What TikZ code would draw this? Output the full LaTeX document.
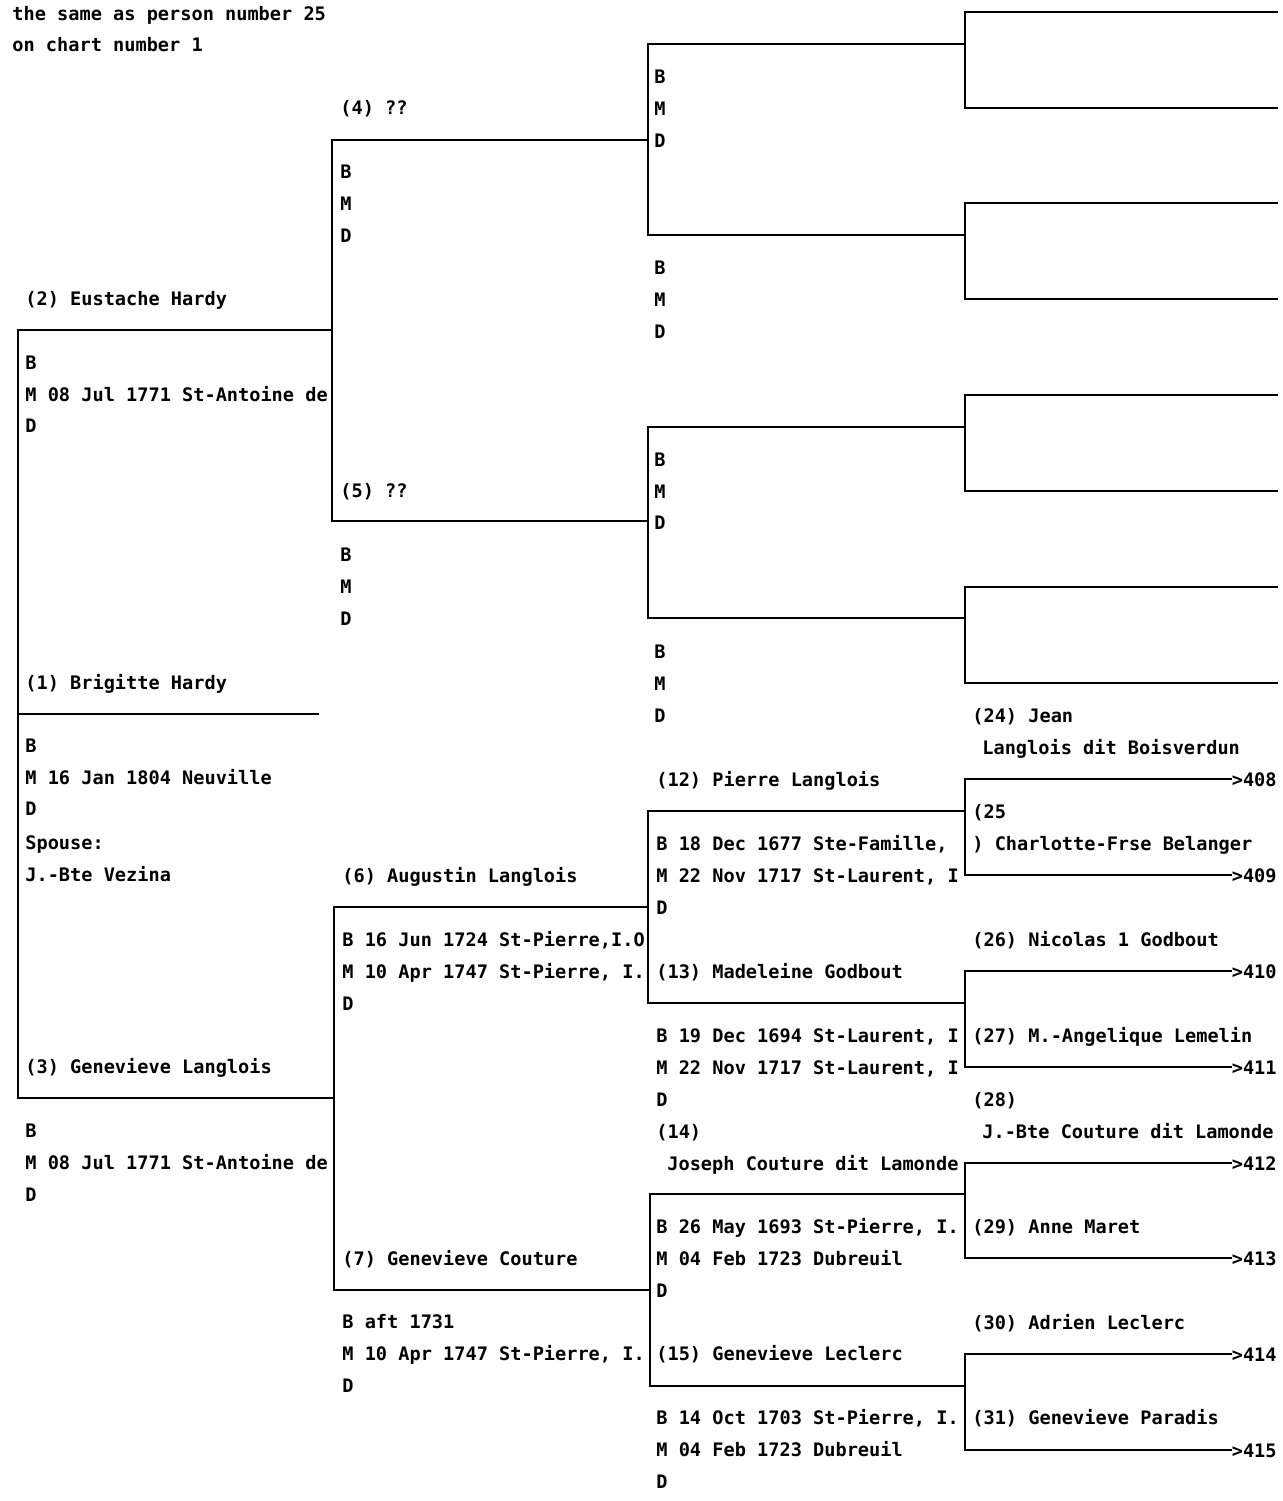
\documentclass[tikz,border=0pt]{standalone}
\usepackage{fontspec}
\setmonofont{DejaVu Sans Mono}
\begin{document}
\begin{tikzpicture}[x={(0.5pt,0)},y={(0,-0.5pt)},
  ln/.style={line width=1pt,line cap=rect},
  tx/.style={anchor=base west,inner sep=0pt,font=\fontsize{9.3pt}{11pt}\ttfamily\bfseries},
  ref/.style={anchor=base east,inner sep=0pt,font=\fontsize{9.3pt}{11pt}\ttfamily\bfseries}]
\useasboundingbox (0,0) rectangle (1283,1501);
% ---------- lines ----------
% generation 1
\coordinate (g1top) at (18,330);
\coordinate (g1bot) at (18,1098);
\coordinate (p1s) at (18,714); \coordinate (p1e) at (318,714);
\coordinate (p2e) at (332,330); \coordinate (p3e) at (334,1098);
\draw[ln] (g1top) -- (g1bot);
\draw[ln] (p1s) -- (p1e);
\draw[ln] (g1top) -- (p2e);
\draw[ln] (g1bot) -- (p3e);
% generation 2
\coordinate (p4s) at (332,140); \coordinate (p4e) at (648,140);
\coordinate (p5s) at (332,521); \coordinate (p5e) at (648,521);
\coordinate (p6s) at (334,907); \coordinate (p6e) at (648,907);
\coordinate (p7s) at (334,1290); \coordinate (p7e) at (650,1290);
\draw[ln] (p4s) -- (p5s);
\draw[ln] (p6s) -- (p7s);
\draw[ln] (p4s) -- (p4e); \draw[ln] (p5s) -- (p5e);
\draw[ln] (p6s) -- (p6e); \draw[ln] (p7s) -- (p7e);
% generation 3
\coordinate (p8s) at (648,44); \coordinate (p8e) at (965,44);
\coordinate (p9s) at (648,235); \coordinate (p9e) at (965,235);
\coordinate (p10s) at (648,427); \coordinate (p10e) at (965,427);
\coordinate (p11s) at (648,618); \coordinate (p11e) at (965,618);
\coordinate (p12s) at (648,811); \coordinate (p12e) at (965,811);
\coordinate (p13s) at (648,1003); \coordinate (p13e) at (965,1003);
\coordinate (p14s) at (650,1194); \coordinate (p14e) at (965,1194);
\coordinate (p15s) at (650,1386); \coordinate (p15e) at (965,1386);
\draw[ln] (p8s) -- (p9s); \draw[ln] (p10s) -- (p11s);
\draw[ln] (p12s) -- (p13s); \draw[ln] (p14s) -- (p15s);
\foreach \n in {8,...,15} {\draw[ln] (p\n s) -- (p\n e);}
% generation 4 (empty)
\foreach \n/\a/\b in {8/12/108,9/203/299,10/395/491,11/587/683} {
  \draw[ln] (965,\a) -- (965,\b);
  \draw[ln] (965,\a) -- (1277,\a);
  \draw[ln] (965,\b) -- (1277,\b);
}
% generation 4 with references
\node[ref] (r408) at (1277,786) {>408};
\node[ref] (r409) at (1277,882) {>409};
\node[ref] (r410) at (1277,978) {>410};
\node[ref] (r411) at (1277,1074) {>411};
\node[ref] (r412) at (1277,1170) {>412};
\node[ref] (r413) at (1277,1265) {>413};
\node[ref] (r414) at (1277,1361) {>414};
\node[ref] (r415) at (1277,1457) {>415};
\coordinate (q24) at (965,779); \coordinate (q25) at (965,875);
\coordinate (q26) at (965,971); \coordinate (q27) at (965,1067);
\coordinate (q28) at (965,1163); \coordinate (q29) at (965,1258);
\coordinate (q30) at (965,1354); \coordinate (q31) at (965,1450);
\draw[ln] (q24) -- (q25); \draw[ln] (q26) -- (q27);
\draw[ln] (q28) -- (q29); \draw[ln] (q30) -- (q31);
\draw[ln] (q24) -- (q24 -| r408.west); \draw[ln] (q25) -- (q25 -| r409.west);
\draw[ln] (q26) -- (q26 -| r410.west); \draw[ln] (q27) -- (q27 -| r411.west);
\draw[ln] (q28) -- (q28 -| r412.west); \draw[ln] (q29) -- (q29 -| r413.west);
\draw[ln] (q30) -- (q30 -| r414.west); \draw[ln] (q31) -- (q31 -| r415.west);
% ---------- texts ----------
\node[tx] (h1) at (12,20) {the same as person number 25};
\node[tx] (h2) at (12,51) {on chart number 1};
% person 1
\node[tx] (n1) at (25,689) {(1) Brigitte Hardy};
\node[tx] (n1b) at (25,752) {B};
\node[tx] (n1m) at (25,784) {M 16 Jan 1804 Neuville};
\node[tx] (n1d) at (25,815) {D};
\node[tx] (n1s) at (25,849) {Spouse:};
\node[tx] (n1v) at (25,881) {J.-Bte Vezina};
% person 2
\node[tx] (n2) at (25,305) {(2) Eustache Hardy};
\node[tx] (n2b) at (25,369) {B};
\node[tx] (n2m) at (25,401) {M 08 Jul 1771 St-Antoine de};
\node[tx] (n2d) at (25,432) {D};
% person 3
\node[tx] (n3) at (25,1073) {(3) Genevieve Langlois};
\node[tx] (n3b) at (25,1137) {B};
\node[tx] (n3m) at (25,1169) {M 08 Jul 1771 St-Antoine de};
\node[tx] (n3d) at (25,1201) {D};
% person 4
\node[tx] (n4) at (340,114) {(4) ??};
\node[tx] (n4b) at (340,178) {B};
\node[tx] (n4m) at (340,210) {M};
\node[tx] (n4d) at (340,242) {D};
% person 5
\node[tx] (n5) at (340,497) {(5) ??};
\node[tx] (n5b) at (340,561) {B};
\node[tx] (n5m) at (340,593) {M};
\node[tx] (n5d) at (340,625) {D};
% person 6
\node[tx] (n6) at (342,882) {(6) Augustin Langlois};
\node[tx] (n6b) at (342,946) {B 16 Jun 1724 St-Pierre,I.O};
\node[tx] (n6m) at (342,978) {M 10 Apr 1747 St-Pierre, I.};
\node[tx] (n6d) at (342,1010) {D};
% person 7
\node[tx] (n7) at (342,1265) {(7) Genevieve Couture};
\node[tx] (n7b) at (342,1328) {B aft 1731};
\node[tx] (n7m) at (342,1360) {M 10 Apr 1747 St-Pierre, I.};
\node[tx] (n7d) at (342,1392) {D};
% persons 8-11
\node[tx] (n8b) at (654,83) {B};
\node[tx] (n8m) at (654,115) {M};
\node[tx] (n8d) at (654,147) {D};
\node[tx] (n9b) at (654,274) {B};
\node[tx] (n9m) at (654,306) {M};
\node[tx] (n9d) at (654,338) {D};
\node[tx] (n10b) at (654,466) {B};
\node[tx] (n10m) at (654,498) {M};
\node[tx] (n10d) at (654,529) {D};
\node[tx] (n11b) at (654,658) {B};
\node[tx] (n11m) at (654,690) {M};
\node[tx] (n11d) at (654,722) {D};
% person 12
\node[tx] (n12) at (656,786) {(12) Pierre Langlois};
\node[tx] (n12b) at (656,850) {B 18 Dec 1677 Ste-Famille,};
\node[tx] (n12m) at (656,882) {M 22 Nov 1717 St-Laurent, I};
\node[tx] (n12d) at (656,914) {D};
% person 13
\node[tx] (n13) at (656,978) {(13) Madeleine Godbout};
\node[tx] (n13b) at (656,1042) {B 19 Dec 1694 St-Laurent, I};
\node[tx] (n13m) at (656,1074) {M 22 Nov 1717 St-Laurent, I};
\node[tx] (n13d) at (656,1106) {D};
% person 14
\node[tx] (n14) at (656,1138) {(14)};
\node[tx] (n14n) at (667,1170) {Joseph Couture dit Lamonde};
\node[tx] (n14b) at (656,1233) {B 26 May 1693 St-Pierre, I.};
\node[tx] (n14m) at (656,1265) {M 04 Feb 1723 Dubreuil};
\node[tx] (n14d) at (656,1297) {D};
% person 15
\node[tx] (n15) at (656,1360) {(15) Genevieve Leclerc};
\node[tx] (n15b) at (656,1424) {B 14 Oct 1703 St-Pierre, I.};
\node[tx] (n15m) at (656,1456) {M 04 Feb 1723 Dubreuil};
\node[tx] (n15d) at (656,1488) {D};
% persons 24-31
\node[tx] (n24) at (972,722) {(24) Jean};
\node[tx] (n24n) at (982,754) {Langlois dit Boisverdun};
\node[tx] (n25) at (972,818) {(25};
\node[tx] (n25n) at (972,850) {) Charlotte-Frse Belanger};
\node[tx] (n26) at (972,946) {(26) Nicolas 1 Godbout};
\node[tx] (n27) at (972,1042) {(27) M.-Angelique Lemelin};
\node[tx] (n28) at (972,1106) {(28)};
\node[tx] (n28n) at (982,1138) {J.-Bte Couture dit Lamonde};
\node[tx] (n29) at (972,1233) {(29) Anne Maret};
\node[tx] (n30) at (972,1329) {(30) Adrien Leclerc};
\node[tx] (n31) at (972,1424) {(31) Genevieve Paradis};
\end{tikzpicture}
\end{document}
